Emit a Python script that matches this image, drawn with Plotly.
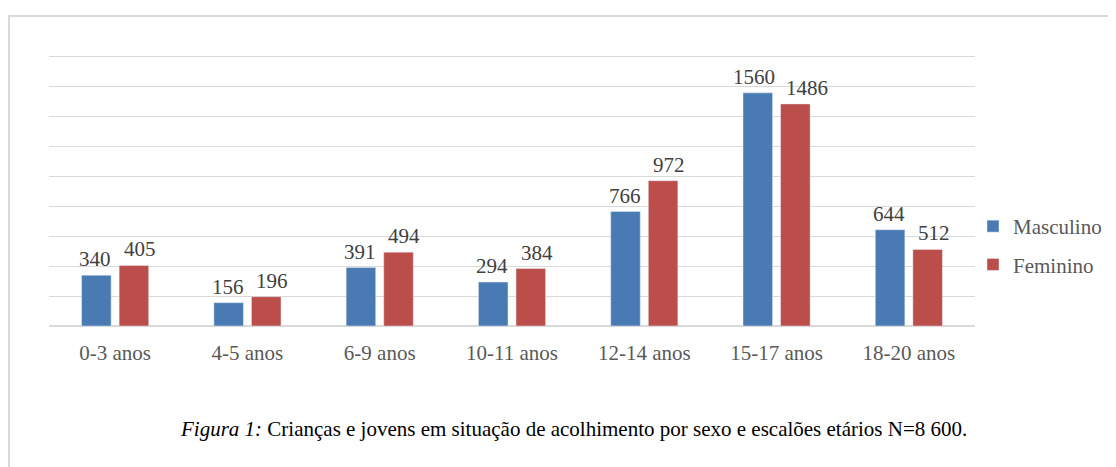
import plotly.graph_objects as go

categories = ["0-3 anos", "4-5 anos", "6-9 anos", "10-11 anos", "12-14 anos", "15-17 anos", "18-20 anos"]
masculino = [340, 156, 391, 294, 766, 1560, 644]
feminino = [405, 196, 494, 384, 972, 1486, 512]
caption = "<i>Figura 1:</i> Crianças e jovens em situação de acolhimento por sexo e escalões etários N=8 600."

W, H = 1116, 467
OFF = 8  # page body margin
YMAX = 1820
BARGAP, GROUPGAP = 0.432, 0.213
L, R, B = 49 - OFF, 975 - OFF, 326 - OFF
T = B - round(269 * YMAX / 1800)
pw, ph = R - L, B - T

def px(x):
    return (x - OFF - L) / pw

def py(y):
    return (B - (y - OFF)) / ph

font_family = "Liberation Serif"

fig = go.Figure()
fig.add_trace(go.Bar(name="Masculino", x=categories, y=masculino, marker_color="#4a7ab4",
                     legendgroup="m"))
fig.add_trace(go.Bar(name="Feminino", x=categories, y=feminino, marker_color="#bb4d4a",
                     legendgroup="f"))

# value labels above each bar, nudged apart like the reference
cat_w = pw / len(categories)
bar_center = cat_w * (1 - BARGAP) / 4  # distance of each bar's centre from category centre
for cat, m, f in zip(categories, masculino, feminino):
    for val, sign in ((m, -1), (f, 1)):
        if val >= 1000:
            extra = 4 if sign < 0 else 12
        else:
            extra = 1 if sign < 0 else 6
        fig.add_annotation(x=cat, y=val, text=str(val), showarrow=False,
                           xanchor="center", yanchor="bottom", yshift=2,
                           xshift=sign * (bar_center + extra),
                           font=dict(size=21, color="#404040", family=font_family))

fig.update_layout(
    width=W, height=H,
    margin=dict(l=L, r=W - R, t=T, b=H - B),
    paper_bgcolor="white", plot_bgcolor="white",
    barmode="group", bargap=BARGAP, bargroupgap=GROUPGAP,
    font=dict(family=font_family, size=21, color="#595959"),
    showlegend=True,
    legend=dict(x=px(973), xanchor="left", y=py(206), yanchor="top",
                font=dict(size=21, color="#595959", family=font_family),
                traceorder="grouped", tracegroupgap=8, bgcolor="rgba(0,0,0,0)"),
    xaxis=dict(showgrid=False, showline=False, ticks="", ticklabelstandoff=12,
               tickfont=dict(size=21, color="#595959", family=font_family)),
    yaxis=dict(range=[0, YMAX], tickvals=list(range(0, 1801, 200)), showgrid=True, gridcolor="#d9d9d9", gridwidth=1.3,
               showticklabels=False, zeroline=True, zerolinecolor="#d9d9d9", zerolinewidth=1.5,
               showline=False, ticks=""),
)

# outer frame (top and left border)
fig.add_shape(type="line", xref="paper", yref="paper", x0=px(8), x1=px(1130), y0=py(16), y1=py(16),
              line=dict(color="#d9d9d9", width=2))
fig.add_shape(type="line", xref="paper", yref="paper", x0=px(9), x1=px(9), y0=py(15), y1=py(480),
              line=dict(color="#d9d9d9", width=2))

fig.add_annotation(text=caption, xref="paper", yref="paper", x=px(573.5), y=py(429),
                   xanchor="center", yanchor="middle", showarrow=False,
                   font=dict(size=21, color="#000000", family=font_family))

fig.write_html("out.html")
